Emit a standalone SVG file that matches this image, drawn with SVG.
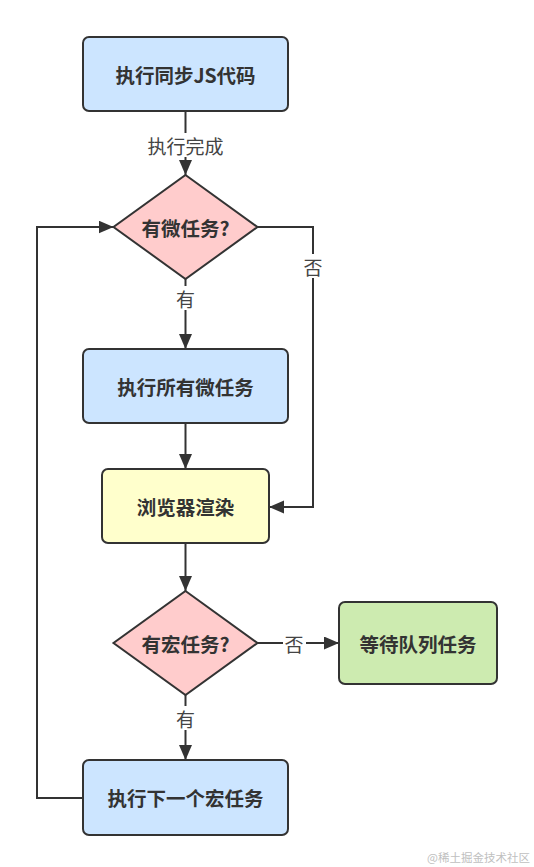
<svg xmlns="http://www.w3.org/2000/svg" width="534" height="867" viewBox="0 0 534 867">
<style>
.node{stroke:#333;stroke-width:2}
.blue{fill:#cce5ff}
.pink{fill:#ffcccc}
.yellow{fill:#ffffcc}
.green{fill:#cdebb0}
.nt{font-family:"Noto Sans CJK SC","Noto Sans",sans-serif;font-size:19.5px;font-weight:bold;fill:#333;text-anchor:middle;dominant-baseline:central}
.edge{fill:none;stroke:#333;stroke-width:2}
.lt{font-family:"Noto Sans CJK SC","Noto Sans",sans-serif;font-size:19px;fill:#444;text-anchor:middle;dominant-baseline:central}
.lbg{fill:#fff}
.wm{font-family:"Noto Sans CJK SC",sans-serif;font-size:11.5px;fill:#c0c0c0;text-anchor:end}
</style>
<defs>
<marker id="arr" markerUnits="userSpaceOnUse" markerWidth="16" markerHeight="14" refX="15" refY="6.5" orient="auto">
<path d="M0,0 L15,6.5 L0,13 z" fill="#333"/>
</marker>
</defs>
<rect width="534" height="867" fill="#fff"/>
<g id="connectors">
<path class="edge" d="M185.5,111 V175" marker-end="url(#arr)"/>
<path class="edge" d="M185.5,279 V349" marker-end="url(#arr)"/>
<path class="edge" d="M257.5,227 H313 V507 H269" marker-end="url(#arr)"/>
<path class="edge" d="M185.5,423 V469" marker-end="url(#arr)"/>
<path class="edge" d="M185.5,543 V591" marker-end="url(#arr)"/>
<path class="edge" d="M257.5,643 H339" marker-end="url(#arr)"/>
<path class="edge" d="M185.5,695 V760" marker-end="url(#arr)"/>
<path class="edge" d="M83,798 H37 V227 H113.5" marker-end="url(#arr)"/>
<rect class="lbg" x="145" y="133" width="81" height="24"/>
<text class="lt" x="185.5" y="145">执行完成</text>
<rect class="lbg" x="174" y="286" width="23" height="24"/>
<text class="lt" x="185.5" y="298">有</text>
<rect class="lbg" x="302" y="254" width="23" height="24"/>
<text class="lt" x="313" y="266">否</text>
<rect class="lbg" x="283" y="631" width="23" height="24"/>
<text class="lt" x="294" y="643">否</text>
<rect class="lbg" x="174" y="706" width="23" height="24"/>
<text class="lt" x="185.5" y="718">有</text>
</g>
<g id="n1">
<rect class="node blue" x="83" y="37" width="205" height="74" rx="6"/>
<text class="nt" x="185.5" y="74">执行同步JS代码</text>
</g>
<g id="n2">
<polygon class="node pink" points="185.5,175 257.5,227 185.5,279 113.5,227"/>
<text class="nt" x="185.5" y="227">有微任务?</text>
</g>
<g id="n3">
<rect class="node blue" x="83" y="349" width="205" height="74" rx="6"/>
<text class="nt" x="185.5" y="386">执行所有微任务</text>
</g>
<g id="n4">
<rect class="node yellow" x="102" y="469" width="167" height="74" rx="6"/>
<text class="nt" x="185.5" y="506">浏览器渲染</text>
</g>
<g id="n5">
<polygon class="node pink" points="185.5,591 257.5,643 185.5,695 113.5,643"/>
<text class="nt" x="185.5" y="643">有宏任务?</text>
</g>
<g id="n6">
<rect class="node green" x="339" y="602" width="158" height="82" rx="6"/>
<text class="nt" x="418" y="643">等待队列任务</text>
</g>
<g id="n7">
<rect class="node blue" x="83" y="760" width="205" height="75" rx="6"/>
<text class="nt" x="185.5" y="797.5">执行下一个宏任务</text>
</g>
<text class="wm" x="530" y="862">@稀土掘金技术社区</text>
</svg>
